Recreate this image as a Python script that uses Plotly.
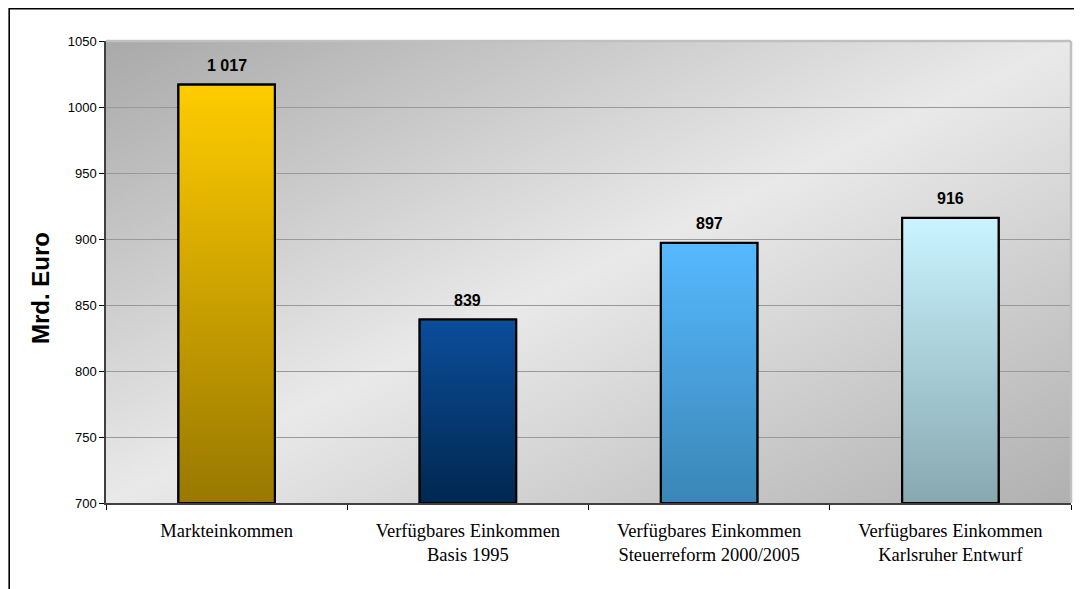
import base64
import plotly.graph_objects as go

# ---- data ----
categories = [
    "Markteinkommen",
    "Verfügbares Einkommen<br>Basis 1995",
    "Verfügbares Einkommen<br>Steuerreform 2000/2005",
    "Verfügbares Einkommen<br>Karlsruher Entwurf",
]
values = [1017, 839, 897, 916]
y_ticks = [700, 750, 800, 850, 900, 950, 1000, 1050]
y_title = "Mrd. Euro"

# ---- styles ----
top_colors = ["#FFCC00", "#0B4D9B", "#56B9FF", "#C9F4FF"]
bottom_colors = ["#987800", "#00284F", "#3A86B6", "#88A8B0"]
BAR_W = 0.4
Y_MIN, Y_MAX = y_ticks[0], y_ticks[-1]

fig = go.Figure()

idx = list(range(len(categories)))

# bar trace (structure) - gradient fills drawn on top
fig.add_trace(go.Bar(
    x=idx, y=[v - Y_MIN for v in values], base=Y_MIN, width=BAR_W,
    marker=dict(color=bottom_colors, line=dict(color="black", width=2)),
    hoverinfo="skip", showlegend=False,
))

# gradient fill for each bar
for i, v in enumerate(values):
    x0, x1 = i - BAR_W / 2, i + BAR_W / 2
    fig.add_trace(go.Scatter(
        x=[x0, x1, x1, x0, x0], y=[Y_MIN, Y_MIN, v, v, Y_MIN],
        mode="lines", fill="toself",
        fillgradient=dict(type="vertical",
                          colorscale=[[0, bottom_colors[i]], [1, top_colors[i]]]),
        line=dict(color="black", width=2.2),
        hoverinfo="skip", showlegend=False,
    ))

# value labels
for i, v in enumerate(values):
    lbl = f"{v:,}".replace(",", " ")
    fig.add_annotation(x=i, y=v, text=f"<b>{lbl}</b>", showarrow=False,
                       yshift=19, font=dict(family="Liberation Sans, Arial", size=16, color="black"))

# background gradient for plot area
svg = ('<svg xmlns="http://www.w3.org/2000/svg" width="1000" height="500" viewBox="0 0 1000 500" '
       'preserveAspectRatio="none"><defs><linearGradient id="g" x1="0" y1="0" x2="1" y2="1">'
       '<stop offset="0" stop-color="#A9A9A9"/><stop offset="0.5" stop-color="#E9E9E9"/>'
       '<stop offset="1" stop-color="#B0B0B0"/></linearGradient></defs>'
       '<rect width="1000" height="500" fill="url(#g)"/></svg>')
src = "data:image/svg+xml;base64," + base64.b64encode(svg.encode()).decode()
fig.add_layout_image(dict(source=src, xref="paper", yref="paper", x=0, y=1,
                          sizex=1, sizey=1, sizing="stretch", layer="below",
                          xanchor="left", yanchor="top"))

W, H = 1082, 589
L, R, T, B = 98, 19, 33, 94
pw, ph = W - L - R, H - T - B

# y-axis title (placed slightly below the plot's vertical centre, as in the original)
fig.add_annotation(xref="paper", yref="paper", x=-66 / pw, y=215 / ph,
                   text=f"<b>{y_title}</b>", textangle=-90, showarrow=False,
                   xanchor="center", yanchor="middle",
                   font=dict(family="Liberation Sans, Arial", size=24, color="black"))

# plot area top / right light border
fig.add_shape(type="line", xref="paper", yref="paper", x0=0, x1=1, y0=1, y1=1,
              line=dict(color="#C0C0C0", width=2.5))
fig.add_shape(type="line", xref="paper", yref="paper", x0=1, x1=1, y0=0, y1=1,
              line=dict(color="#C0C0C0", width=2.5))

# outer frame along the figure edge
fx0 = (1.2 - L) / pw
fy1 = (ph + T - 0.8) / ph
fig.add_shape(type="rect", xref="paper", yref="paper", x0=fx0, x1=1.2, y0=-0.5, y1=fy1,
              line=dict(color="black", width=1.6), fillcolor="rgba(0,0,0,0)", layer="above")

fig.update_layout(
    width=W, height=H,
    margin=dict(l=L, r=R, t=T, b=B, autoexpand=False),
    paper_bgcolor="white", plot_bgcolor="rgba(0,0,0,0)",
    showlegend=False,
    font=dict(family="Liberation Sans, Arial", color="black"),
)
fig.update_xaxes(
    range=[-0.5, len(categories) - 0.5],
    tickvals=idx, ticktext=categories, ticks="",
    tickfont=dict(family="Liberation Serif, Times New Roman", size=18.5, color="black"),
    ticklabelstandoff=10,
    minor=dict(tickvals=[i - 0.5 for i in range(len(categories) + 1)],
               ticks="outside", ticklen=5, tickcolor="black", tickwidth=1.2),
    showline=True, linecolor="#404040", linewidth=1.5,
    showgrid=False, zeroline=False, fixedrange=True,
)
fig.update_yaxes(
    range=[Y_MIN, Y_MAX], tickvals=y_ticks,
    ticks="outside", ticklen=5, tickcolor="black", tickwidth=1.2,
    tickfont=dict(family="Liberation Sans, Arial", size=13, color="black"),
    showline=True, linecolor="#404040", linewidth=1.5,
    showgrid=True, gridcolor="#999999", gridwidth=1,
    zeroline=False,
)

fig.write_html("out.html")
